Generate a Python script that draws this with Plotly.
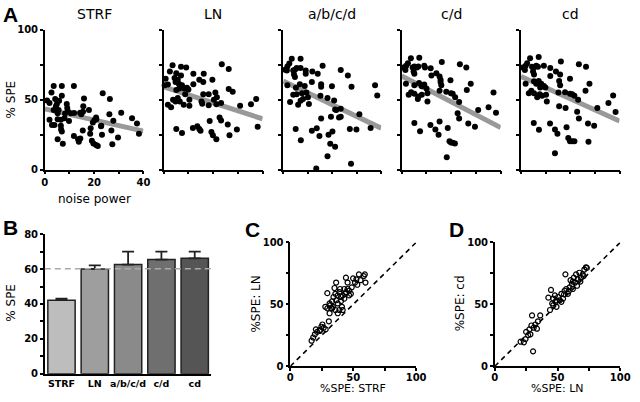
import plotly.graph_objects as go

W, H = 640, 402

# ---------------- Panel A data (noise power vs %SPE) ----------------
panel_titles = ["STRF", "LN", "a/b/c/d", "c/d", "cd"]

strf_x = [0.9, 1.9, 2.7, 3.6, 6.9, 11.8, 4.2, 4.9, 5.8, 6.9, 4.5, 5.6, 5.2, 8.9, 9.1, 9.3, 10.6, 11.9,
          15.9, 15.6, 15.5, 14.3, 17.9, 20.8, 20.1, 19.5, 23.5, 26.4, 26.2, 27.8, 31.0, 35.4, 37.4, 38.2,
          1.9, 2.9, 3.9, 5.2, 6.5, 8.0, 9.8, 6.5, 6.6, 6.9, 5.2, 7.3, 11.8, 13.5, 14.4, 13.8, 15.4, 18.6,
          18.4, 19.1, 19.7, 20.8, 21.5, 22.8, 23.2, 27.0, 27.4, 29.7, 3.6, 8.2, 14.8, 20.9, 22.9]
strf_y = [49.4, 47.6, 55.0, 59.8, 59.8, 59.8, 50.4, 46.9, 49.2, 52.7, 45.3, 42.5, 40.2, 46.9, 44.1, 41.8, 40.2, 40.4,
          50.8, 45.3, 41.3, 40.7, 42.5, 37.2, 35.3, 33.7, 54.5, 50.4, 39.5, 34.9, 40.7, 36.7, 33.0, 25.6,
          35.6, 31.9, 31.9, 36.0, 35.6, 36.7, 34.7, 31.4, 28.6, 27.3, 21.7, 18.5, 24.0, 21.7, 22.2, 19.9, 28.0, 29.6,
          25.6, 20.6, 18.7, 17.6, 16.9, 31.0, 24.9, 28.0, 18.2, 22.9, 42.5, 40.0, 39.5, 36.0, 31.4]

ln_x = [0.8, 0.4, 1.7, 2.5, 3.6, 5.1, 4.4, 4.8, 5.7, 6.1, 7.0, 7.0, 9.1, 7.4, 8.3, 9.4, 10.0, 6.3, 5.1, 8.7,
        3.8, 5.7, 4.8, 6.5, 8.1, 10.4, 10.4, 1.7, 3.0, 12.0, 12.0, 14.4, 16.0, 16.2, 16.0, 15.3, 15.6, 18.2,
        18.2, 19.7, 20.3, 20.9, 21.5, 21.3, 23.2, 23.5, 26.3, 26.3, 27.9, 30.9, 35.3, 37.4, 38.0, 5.1, 7.4,
        11.8, 13.6, 14.4, 14.9, 18.6, 19.3, 19.9, 21.3, 22.6, 23.2, 25.9, 26.6, 29.6, 6.7]
ln_y = [64.9, 60.3, 60.8, 70.0, 74.6, 68.8, 65.4, 62.6, 64.2, 61.4, 73.5, 67.2, 73.0, 60.3, 58.0, 58.4, 57.3, 58.0, 56.8, 53.8,
        49.9, 51.1, 48.7, 48.7, 46.4, 49.9, 45.7, 46.4, 44.6, 68.4, 61.0, 64.2, 62.6, 68.4, 53.8, 48.7, 47.1, 53.8,
        46.0, 64.2, 49.9, 55.0, 51.7, 46.7, 47.6, 75.3, 71.8, 57.5, 55.7, 45.7, 46.7, 50.4, 30.7, 29.1, 26.1,
        29.8, 31.0, 29.1, 27.7, 34.7, 26.8, 24.5, 21.7, 37.2, 35.1, 32.3, 24.5, 28.6, 60.3]

abcd_x = [0.8, 1.7, 2.5, 3.5, 7.1, 1.5, 4.1, 4.8, 5.5, 4.4, 4.8, 7.1, 9.2, 9.2, 11.9, 14.1, 16.1, 11.7, 15.5, 15.5,
          19.9, 23.5, 26.4, 27.9, 37.5, 38.4, 1.7, 5.2, 6.8, 8.8, 4.1, 5.5, 2.8, 6.1, 7.1, 8.1, 7.7, 9.5, 10.1,
          10.5, 15.2, 18.1, 20.8, 21.2, 21.7, 23.5, 22.8, 23.5, 19.5, 15.5, 31.1, 35.7, 27.2, 29.9, 5.1, 7.2,
          11.7, 13.7, 14.8, 18.5, 20.1, 19.2, 21.2, 18.1, 13.5, 27.7]
abcd_y = [71.4, 73.7, 75.8, 79.2, 79.2, 70.7, 70.7, 71.4, 72.5, 67.9, 66.1, 72.5, 70.7, 68.4, 70.0, 68.4, 74.2, 62.6, 61.0, 59.1,
          59.6, 71.1, 67.2, 59.1, 60.3, 52.9, 60.3, 58.4, 61.0, 59.8, 53.4, 53.8, 48.3, 46.4, 49.2, 50.4, 54.5, 55.0, 51.7,
          46.9, 52.7, 51.1, 49.4, 43.0, 42.5, 43.4, 37.2, 37.7, 37.7, 36.5, 39.5, 29.8, 29.1, 28.6, 29.1, 21.0,
          27.7, 29.6, 24.0, 24.9, 27.3, 18.5, 16.4, 9.5, 0.9, 4.2]

c_d_x = [0.7, 1.8, 2.5, 3.7, 7.1, 1.5, 4.4, 5.1, 6.1, 4.8, 5.1, 6.7, 9.1, 9.4, 11.7, 12.0, 14.0, 15.3, 16.2, 15.7,
         15.7, 16.0, 19.7, 23.5, 26.1, 27.9, 26.3, 37.1, 38.1, 35.1, 30.9, 1.7, 5.1, 7.0, 8.1, 9.1, 10.0, 3.8,
         2.8, 5.1, 6.7, 6.5, 8.1, 10.4, 10.4, 15.3, 18.0, 19.9, 20.6, 21.6, 23.2, 22.6, 23.2, 26.9, 29.6, 5.1,
         7.4, 11.6, 13.6, 14.9, 15.3, 18.6, 19.3, 19.9, 20.6, 21.5, 18.2]
c_d_y = [73.0, 74.2, 76.0, 79.5, 79.9, 71.1, 73.0, 73.7, 73.0, 70.0, 68.4, 73.7, 74.2, 73.0, 72.3, 67.2, 68.8, 66.5, 76.9, 64.2,
         62.6, 60.3, 63.8, 75.3, 73.0, 61.4, 56.8, 55.0, 40.7, 44.6, 42.5, 61.4, 60.3, 61.9, 59.6, 60.8, 58.0, 55.2,
         53.4, 54.1, 52.2, 50.4, 53.4, 54.5, 48.7, 56.4, 55.7, 54.5, 54.1, 51.7, 48.3, 40.2, 36.5, 33.0, 30.7, 33.3,
         27.5, 31.9, 28.6, 24.9, 34.4, 29.8, 20.3, 19.4, 19.2, 18.7, 8.8]

cd_x = [0.7, 1.9, 2.5, 3.7, 7.2, 1.6, 4.5, 5.3, 6.2, 4.9, 5.3, 6.9, 9.3, 11.9, 11.9, 14.2, 15.9, 16.2, 15.5, 15.9,
        19.9, 23.5, 26.4, 27.8, 26.2, 37.4, 35.5, 38.4, 31.0, 1.9, 5.3, 6.2, 7.2, 8.2, 9.3, 9.9, 7.8, 3.2, 4.2,
        5.3, 6.6, 7.6, 8.6, 10.2, 10.5, 15.2, 17.9, 19.9, 20.8, 21.7, 23.2, 22.8, 23.5, 15.5, 18.1, 5.2, 7.3,
        11.8, 13.8, 14.8, 18.5, 19.2, 19.9, 20.8, 21.7, 27.2, 29.7, 27.4, 13.8]
cd_y = [73.0, 74.2, 76.0, 79.5, 80.4, 71.1, 73.5, 73.0, 74.2, 70.0, 67.9, 73.5, 74.2, 72.5, 66.8, 70.0, 67.9, 77.2, 63.3, 60.3,
        64.9, 75.3, 73.5, 61.4, 56.4, 52.9, 47.6, 41.1, 44.1, 61.4, 63.1, 61.4, 63.3, 61.4, 59.8, 58.7, 58.7, 54.5, 56.4,
        54.5, 51.7, 53.8, 52.7, 53.4, 48.7, 55.0, 55.2, 54.1, 53.8, 52.7, 49.9, 41.3, 36.5, 45.3, 44.1, 33.3, 28.4,
        33.0, 28.6, 25.6, 30.3, 22.6, 20.3, 20.3, 20.3, 33.0, 31.4, 19.9, 11.8]

panel_x = [strf_x, ln_x, abcd_x, c_d_x, cd_x]
panel_y = [strf_y, ln_y, abcd_y, c_d_y, cd_y]

# regression line read at noise power 0 and 40
fit_x = [0, 40]
fit_at_0 = [43.4, 59.1, 63.3, 66.8, 66.5]
fit_at_40 = [27.5, 36.3, 29.6, 30.0, 34.7]

# ---------------- Panel B data ----------------
bar_labels = ["STRF", "LN", "a/b/c/d", "c/d", "cd"]
bar_means = [42.2, 60.1, 62.6, 65.5, 66.2]
bar_err_up = [0.8, 2.1, 7.4, 4.5, 3.8]
bar_colors = ["#bdbdbd", "#9e9e9e", "#8a8a8a", "#6f6f6f", "#555555"]
ln_reference = 60.2

# ---------------- Panel C data (STRF vs LN) ----------------
c_strf = [16.9, 18.2, 19.5, 20.3, 21.3, 23.4, 25.5, 26.5, 28.1, 29.4, 30.6, 27.8, 29.4, 31.7, 32.5, 33.2, 34.3,
          35.1, 35.8, 36.4, 37.7, 39.0, 39.5, 40.3, 41.0, 41.6, 42.9, 43.6, 44.2, 45.5, 46.8, 48.1, 48.8, 49.9,
          51.4, 53.2, 54.5, 55.8, 58.4, 59.7, 59.2, 52.5, 31.2, 33.8, 36.4, 37.7, 39.0, 40.3, 41.6, 42.9, 44.2,
          45.5, 46.8, 35.8, 37.7, 23.4, 24.7, 31.2, 33.2]
c_ln = [20.6, 23.2, 25.8, 29.8, 27.7, 28.5, 33.7, 31.1, 29.8, 59.0, 36.3, 48.0, 46.7, 49.3, 46.7, 52.5, 55.9,
        63.2, 58.5, 67.6, 50.7, 45.4, 62.4, 55.9, 48.0, 45.4, 62.4, 58.5, 71.5, 67.6, 61.1, 58.5, 63.7, 71.0,
        67.6, 65.8, 74.2, 69.5, 72.8, 67.6, 74.2, 70.2, 50.7, 48.0, 53.3, 57.2, 59.8, 52.7, 57.2, 54.6, 59.8,
        62.4, 57.2, 45.4, 42.8, 29.2, 31.9, 42.8, 46.7]

# ---------------- Panel D data (LN vs cd) ----------------
d_ln = [20.6, 23.2, 24.5, 25.0, 26.6, 27.6, 29.2, 29.7, 30.5, 31.0, 32.3, 33.6, 34.4, 36.2, 28.4, 42.7, 44.0,
        44.8, 45.8, 46.6, 47.9, 48.4, 49.2, 50.5, 51.8, 53.1, 54.4, 55.7, 56.3, 57.0, 58.3, 59.6, 60.4, 61.5,
        62.2, 63.0, 64.1, 64.8, 66.1, 67.4, 68.8, 70.1, 71.4, 72.7, 73.4, 70.8, 46.6, 49.2, 53.1, 55.2, 58.9,
        62.2, 65.6, 68.2]
d_cd = [19.8, 19.3, 21.9, 27.7, 25.1, 29.8, 32.9, 41.0, 12.0, 31.1, 33.7, 30.3, 36.3, 41.0, 25.8, 55.4, 45.4,
        61.6, 50.7, 54.6, 57.2, 52.0, 48.0, 55.9, 53.3, 58.5, 54.6, 61.1, 74.2, 62.4, 58.5, 63.7, 69.5, 66.3,
        62.4, 71.5, 67.6, 74.2, 70.2, 75.5, 71.5, 74.2, 78.1, 79.9, 79.4, 72.8, 49.3, 53.3, 52.0, 58.0, 60.6,
        68.4, 65.0, 68.4]
identity = [0, 100]

# ---------------- layout helpers ----------------
def px_x(p):
    return p / W

def px_y(p):
    return 1 - p / H

FONT = "DejaVu Sans"
tickfont = dict(family=FONT, size=10, color="black", weight="bold")

def axis_style(**kw):
    d = dict(showline=True, linecolor="black", linewidth=1.5, ticks="outside", ticklen=3,
             tickwidth=1.5, tickcolor="black", showgrid=False, zeroline=False,
             tickfont=tickfont, fixedrange=True)
    d.update(kw)
    return d

fig = go.Figure()
layout = dict(width=W, height=H, margin=dict(l=0, r=0, t=0, b=0),
              paper_bgcolor="white", plot_bgcolor="white", showlegend=False)

a_left = [42.7, 164.0, 286.0, 407.0, 528.7]
a_right = [143.3, 265.0, 386.0, 508.0, 629.3]
a_top, a_bot = 24.3, 168.7

annotations = []
for i in range(5):
    n = i + 1
    xa = "x" if n == 1 else f"x{n}"
    ya = "y" if n == 1 else f"y{n}"
    xkey = "xaxis" if n == 1 else f"xaxis{n}"
    ykey = "yaxis" if n == 1 else f"yaxis{n}"
    layout[xkey] = axis_style(domain=[px_x(a_left[i]), px_x(a_right[i])], range=[0, 40], anchor=ya,
                              tickvals=[0, 10, 20, 30, 40],
                              ticktext=["0", "", "20", "", "40"] if i == 0 else [""] * 5)
    layout[ykey] = axis_style(domain=[px_y(a_bot), px_y(a_top)], range=[0, 100], anchor=xa,
                              tickvals=[0, 25, 50, 75, 100],
                              ticktext=["0", "", "50", "", "100"] if i == 0 else [""] * 5)
    fig.add_trace(go.Scatter(x=fit_x, y=[fit_at_0[i], fit_at_40[i]], mode="lines",
                             line=dict(color="#999999", width=5), xaxis=xa, yaxis=ya, cliponaxis=False))
    fig.add_trace(go.Scatter(x=panel_x[i], y=panel_y[i], mode="markers",
                             marker=dict(color="black", size=6, line=dict(width=0)),
                             xaxis=xa, yaxis=ya, cliponaxis=False))
    annotations.append(dict(text=panel_titles[i], x=px_x((a_left[i] + a_right[i]) / 2), y=px_y(8.5),
                            xref="paper", yref="paper", showarrow=False, xanchor="center", yanchor="middle",
                            font=dict(family=FONT, size=14, color="black")))

# Panel B
layout["xaxis6"] = axis_style(domain=[px_x(42.7), px_x(212.7)], anchor="y6", ticks="", type="category",
                              range=[-0.5, 4.5], tickfont=dict(family=FONT, size=9.5, color="black", weight="bold"))
layout["yaxis6"] = axis_style(domain=[px_y(379.0), px_y(235.3)], range=[0, 80], anchor="x6",
                              tickvals=list(range(0, 81, 10)),
                              ticktext=["0", "", "20", "", "40", "", "60", "", "80"])
fig.add_trace(go.Bar(x=bar_labels, y=bar_means, xaxis="x6", yaxis="y6",
                     marker=dict(color=bar_colors, line=dict(color="#222222", width=1.5)),
                     error_y=dict(type="data", array=bar_err_up, arrayminus=[0] * 5, symmetric=False,
                                  color="#222222", thickness=1.8, width=6)))
layout["bargap"] = 0.18

# Panel C & D
cd_domains = {7: (293.3, 421.7), 8: (502.0, 630.0)}
for n, (l, r) in cd_domains.items():
    layout[f"xaxis{n}"] = axis_style(domain=[px_x(l), px_x(r)], range=[0, 100], anchor=f"y{n}",
                                     tickvals=[0, 25, 50, 75, 100], ticktext=["0", "", "50", "", "100"],
                                     ticklabeloverflow="allow", ticklabelstandoff=-2)
    layout[f"yaxis{n}"] = axis_style(domain=[px_y(371.3), px_y(243.7)], range=[0, 100], anchor=f"x{n}",
                                     tickvals=[0, 25, 50, 75, 100], ticktext=["0", "", "50", "", "100"])
    fig.add_trace(go.Scatter(x=identity, y=identity, mode="lines", xaxis=f"x{n}", yaxis=f"y{n}",
                             line=dict(color="black", width=1.6, dash="5px,4px"), cliponaxis=False))

fig.add_trace(go.Scatter(x=c_strf, y=c_ln, mode="markers", xaxis="x7", yaxis="y7", cliponaxis=False,
                         marker=dict(symbol="circle-open", color="black", size=5, line=dict(width=1.2))))
fig.add_trace(go.Scatter(x=d_ln, y=d_cd, mode="markers", xaxis="x8", yaxis="y8", cliponaxis=False,
                         marker=dict(symbol="circle-open", color="black", size=5, line=dict(width=1.2))))

shapes = [dict(type="line", xref="x6 domain", yref="y6", x0=0, x1=1, y0=ln_reference, y1=ln_reference,
               line=dict(color="#aaaaaa", width=1.5, dash="6px,4px"))]

def ann(text, x, y, size=12, angle=0, bold=False, family=FONT, yanchor="middle"):
    f = dict(family=family, size=size, color="black")
    if bold:
        f["weight"] = "bold"
    annotations.append(dict(text=text, x=px_x(x), y=px_y(y), xref="paper", yref="paper", showarrow=False,
                            xanchor="center", yanchor=yanchor, textangle=angle, font=f, borderpad=0))

ann("A", 8, 9, size=21, bold=True, family="Liberation Sans")
ann("B", 8, 228, size=21, bold=True, family="Liberation Sans")
ann("C", 255, 230.5, size=21, bold=True, family="Liberation Sans")
ann("D", 463, 230.5, size=21, bold=True, family="Liberation Sans")
ann("noise power", 93, 199)
ann("% SPE", 8, 96.5, angle=-90)
ann("% SPE", 8, 306, angle=-90)
ann("%SPE: LN", 258, 307, angle=-90)
ann("%SPE: STRF", 357.5, 402, size=11, yanchor="bottom")
ann("%SPE: cd", 466, 307, angle=-90)
ann("%SPE: LN", 566, 402, size=11, yanchor="bottom")

layout["annotations"] = annotations
layout["shapes"] = shapes
fig.update_layout(**layout)
fig.write_html("out.html", config={"displayModeBar": False},
               post_script="document.body.style.margin='0px';document.body.style.overflow='hidden';")
